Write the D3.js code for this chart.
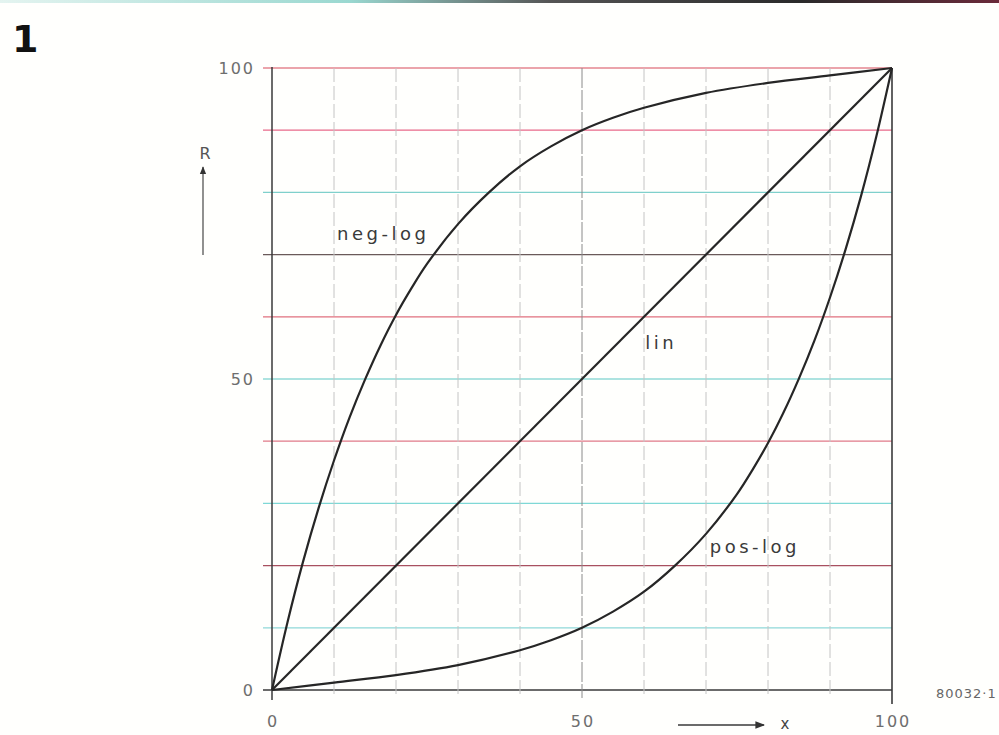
<!DOCTYPE html>
<html>
<head>
<meta charset="utf-8">
<script src="https://cdn.jsdelivr.net/npm/d3@7"></script>
<style>
html,body{margin:0;padding:0;background:#fffffd;}
svg{display:block;}
text{font-family:"DejaVu Sans","Liberation Sans",sans-serif;}
</style>
</head>
<body>
<svg id="chart" width="999" height="735"></svg>
<script>
// ---- data ----
const xTicks = [0, 50, 100];
const yTicks = [0, 50, 100];
const gridSteps = [0, 10, 20, 30, 40, 50, 60, 70, 80, 90, 100];

const negLogX = [0, 2.5, 5, 7.5, 10, 12.5, 15, 17.5, 20, 22.5, 25, 30, 35, 40, 45, 50, 55, 60, 70, 80, 90, 100];
const negLogR = [0, 10.9, 20.6, 29.2, 36.9, 43.8, 49.9, 55.4, 60.3, 64.6, 68.5, 74.9, 80, 84.2, 87.4, 90, 92, 93.6, 96, 97.6, 98.8, 100];

const linX = [0, 100];
const linR = [0, 100];

const posLogX = [0, 10, 20, 30, 40, 45, 50, 55, 60, 65, 70, 75, 77.5, 80, 82.5, 85, 87.5, 90, 92.5, 95, 97.5, 100];
const posLogR = [0, 1.2, 2.4, 4, 6.4, 8, 10, 12.6, 15.8, 20, 25.1, 31.5, 35.4, 39.7, 44.6, 50.1, 56.2, 63.1, 70.8, 79.4, 89.1, 100];

const curveLabels = [
  {text: "neg-log", x: 10.5, r: 72.3},
  {text: "lin", x: 60.2, r: 54.8},
  {text: "pos-log", x: 70.6, r: 22}
];

// ---- drawing ----
const svg = d3.select("#chart");
const x = d3.scaleLinear().domain([0, 100]).range([272, 892]);
const y = d3.scaleLinear().domain([0, 100]).range([690, 68]);

// top border line (scan edge)
const defs = svg.append("defs");
const grad = defs.append("linearGradient").attr("id", "topg").attr("x1", "0").attr("x2", "1");
grad.append("stop").attr("offset", "0").attr("stop-color", "#e4f4f0");
grad.append("stop").attr("offset", "0.35").attr("stop-color", "#9ad8d0");
grad.append("stop").attr("offset", "0.55").attr("stop-color", "#555");
grad.append("stop").attr("offset", "0.8").attr("stop-color", "#2a2a2a");
grad.append("stop").attr("offset", "1").attr("stop-color", "#6a2a3a");
svg.append("rect").attr("x", 0).attr("y", 0).attr("width", 999).attr("height", 3).attr("fill", "url(#topg)");

// figure number
svg.append("text").attr("x", 12).attr("y", 52)
  .attr("font-family", "Liberation Sans, Arial, sans-serif")
  .attr("font-weight", "bold").attr("font-size", 38).attr("fill", "#111").text("1");

// horizontal grid lines (coloured as in print)
const hColors = {0: "#3a3a3a", 10: "#8fd8d8", 20: "#a85060", 30: "#7fd8d6", 40: "#e07a88",
  50: "#5cc8c4", 60: "#e0707e", 70: "#6a5a5a", 80: "#7fd0cc", 90: "#e86a8a", 100: "#d84a5a"};
svg.append("g").selectAll("line").data(gridSteps).join("line")
  .attr("x1", x(0) - 9)
  .attr("x2", x(100))
  .attr("y1", d => y(d)).attr("y2", d => y(d))
  .attr("stroke", d => hColors[d])
  .attr("stroke-width", d => (d === 0 ? 1.6 : 1.2));

// vertical grid lines (dashed)
svg.append("g").selectAll("line").data(gridSteps.filter(d => d > 0 && d < 100)).join("line")
  .attr("x1", d => x(d)).attr("x2", d => x(d))
  .attr("y1", y(100)).attr("y2", y(0) + 8)
  .attr("stroke", d => d === 50 ? "#8a8a8a" : "#c4c4c4")
  .attr("stroke-width", 1)
  .attr("stroke-dasharray", d => d === 50 ? "20,2" : "14,4");

// frame: left axis and right border
svg.append("line").attr("x1", x(0)).attr("x2", x(0)).attr("y1", y(100) - 1).attr("y2", y(0) + 10)
  .attr("stroke", "#3a3a3a").attr("stroke-width", 1.5);
svg.append("line").attr("x1", x(100)).attr("x2", x(100)).attr("y1", y(100)).attr("y2", y(0) + 14)
  .attr("stroke", "#3a3a3a").attr("stroke-width", 1.6);

// tick labels
const tickStyle = sel => sel.attr("font-size", 16).attr("fill", "#6e6e6e").attr("letter-spacing", 2);
svg.append("g").selectAll("text").data(yTicks).join("text")
  .attr("x", 255).attr("y", d => y(d) + 6).attr("text-anchor", "end")
  .text(d => d).call(tickStyle);
svg.append("g").selectAll("text").data(xTicks).join("text")
  .attr("x", d => x(d) + 1).attr("y", 727).attr("text-anchor", "middle")
  .text(d => d).call(tickStyle);

// axis titles with arrows
defs.append("marker").attr("id", "arr").attr("viewBox", "0 0 10 10")
  .attr("refX", 9).attr("refY", 5).attr("markerWidth", 6).attr("markerHeight", 6)
  .attr("orient", "auto").append("path").attr("d", "M0,1 L10,5 L0,9 Z").attr("fill", "#333");
svg.append("line").attr("x1", 203).attr("x2", 203).attr("y1", 255).attr("y2", 167)
  .attr("stroke", "#555").attr("stroke-width", 1.3).attr("marker-end", "url(#arr)");
svg.append("text").attr("x", 205).attr("y", 159).attr("text-anchor", "middle")
  .attr("font-size", 16).attr("fill", "#555").text("R");
svg.append("line").attr("x1", 678).attr("x2", 764).attr("y1", 725).attr("y2", 725)
  .attr("stroke", "#3a3a3a").attr("stroke-width", 1.6).attr("marker-end", "url(#arr)");
svg.append("text").attr("x", 785).attr("y", 729).attr("text-anchor", "middle")
  .attr("font-size", 15).attr("fill", "#444").text("x");

// reference code
svg.append("text").attr("x", 936).attr("y", 698)
  .attr("font-size", 13).attr("fill", "#666").attr("letter-spacing", 1).text("80032·1");

// curves
const line = d3.line().x(d => x(d[0])).y(d => y(d[1])).curve(d3.curveCatmullRom.alpha(0.5));
const series = [
  d3.zip(negLogX, negLogR),
  d3.zip(linX, linR),
  d3.zip(posLogX, posLogR)
];
svg.append("g").selectAll("path").data(series).join("path")
  .attr("d", line).attr("fill", "none")
  .attr("stroke", "#262626").attr("stroke-width", 2.2)
  .attr("stroke-linejoin", "round");

// curve labels
svg.append("g").selectAll("text").data(curveLabels).join("text")
  .attr("x", d => x(d.x)).attr("y", d => y(d.r))
  .attr("font-size", 18).attr("fill", "#3a3a3a").attr("letter-spacing", 3.5)
  .text(d => d.text);
</script>
</body>
</html>
